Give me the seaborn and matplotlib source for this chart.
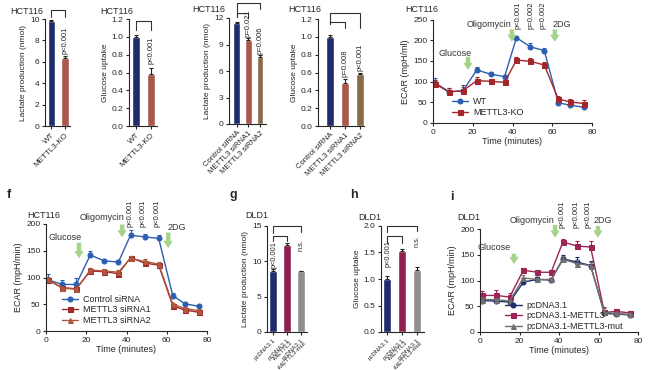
import numpy as np
import pandas as pd
import matplotlib
matplotlib.use('Agg')
import matplotlib.pyplot as plt
import seaborn as sns

sns.set_style('ticks')
plt.rcParams['font.family'] = ['Liberation Sans', 'DejaVu Sans']
plt.rcParams['axes.linewidth'] = 0.8
plt.rcParams['xtick.major.width'] = 0.8
plt.rcParams['ytick.major.width'] = 0.8
plt.rcParams['xtick.major.size'] = 2.5
plt.rcParams['ytick.major.size'] = 2.5
plt.rcParams['xtick.major.pad'] = 1.5
plt.rcParams['ytick.major.pad'] = 1.5

# ---- data: bar panels ----
ko_labels = ['WT', 'METTL3-KO']
ko_lactate = [9.8, 6.4]
ko_lactate_err = [0.1, 0.12]
ko_glucose = [1.0, 0.58]
ko_glucose_err = [0.02, 0.07]

si_labels = ['Control siRNA', 'METTL3 siRNA1', 'METTL3 siRNA2']
si_lactate = [11.4, 9.5, 7.6]
si_lactate_err = [0.2, 0.2, 0.2]
si_glucose = [1.0, 0.48, 0.58]
si_glucose_err = [0.02, 0.045, 0.01]

oe_labels = ['pcDNA3.1', 'pcDNA3.1\n-METTL3', 'pcDNA3.1\n-METTL3-mut']
oe_lactate = [8.6, 12.3, 8.6]
oe_lactate_err = [0.3, 0.3, 0.05]
oe_glucose = [1.0, 1.52, 1.17]
oe_glucose_err = [0.06, 0.04, 0.06]

# ---- data: ECAR time courses ----
time_pts = [1, 8, 15, 22, 29, 36, 42, 49, 56, 63, 69, 76]

wt_ecar = [97, 76, 77, 128, 118, 112, 206, 184, 175, 49, 43, 38]
wt_err = [12, 8, 10, 8, 5, 5, 5, 10, 5, 5, 4, 4]
ko_ecar = [95, 75, 78, 102, 101, 98, 152, 149, 140, 58, 51, 47]
ko_err = [10, 10, 14, 8, 5, 4, 8, 8, 8, 8, 8, 8]

ctrl_ecar = [96, 87, 87, 142, 131, 129, 179, 176, 173, 66, 51, 46]
ctrl_err = [10, 8, 12, 8, 4, 4, 9, 6, 6, 5, 3, 3]
si1_ecar = [95, 81, 79, 112, 111, 107, 137, 127, 123, 47, 39, 35]
si1_err = [4, 4, 4, 6, 5, 5, 4, 4, 4, 4, 3, 3]
si2_ecar = [97, 80, 78, 114, 112, 110, 136, 130, 125, 50, 42, 38]
si2_err = [4, 3, 3, 4, 4, 4, 4, 5, 4, 3, 3, 3]

pc_ecar = [61, 60, 58, 97, 102, 101, 142, 136, 129, 36, 35, 33]
pc_err = [4, 3, 3, 8, 4, 4, 8, 10, 8, 4, 3, 3]
m3_ecar = [71, 71, 68, 120, 116, 116, 175, 167, 165, 38, 40, 37]
m3_err = [8, 10, 8, 4, 4, 4, 6, 10, 12, 10, 4, 4]
mut_ecar = [63, 63, 60, 105, 102, 102, 141, 133, 129, 38, 36, 34]
mut_err = [4, 3, 3, 6, 3, 3, 6, 6, 6, 8, 3, 3]

NAVY = '#1f2d6e'
BRICK = '#a9564b'
TAN = '#8a6a48'
CRIMSON = '#8e1f4f'
GREY = '#8f8f8f'
GREEN = '#a6d38a'

W, H = 650, 370
fig = plt.figure(figsize=(6.5, 3.7), dpi=100)


def px_axes(x0, y0, x1, y1):
    return fig.add_axes([x0 / W, 1 - y1 / H, (x1 - x0) / W, (y1 - y0) / H])


def fig_text(x, y, s, **kw):
    fig.text(x / W, 1 - y / H, s, **kw)


def style(ax):
    sns.despine(ax=ax)
    ax.tick_params(labelsize=6, direction='out')


def bar_panel(ax, labels, vals, errs, colors, top, step, xlim, fmt, ylabel,
              xsize=5.8):
    df = pd.DataFrame({'group': labels, 'value': vals})
    sns.barplot(data=df, x='group', y='value', hue='group', palette=colors,
                width=0.55, saturation=1, legend=False, ax=ax)
    n = len(vals)
    ax.errorbar(range(n), vals, yerr=[np.zeros(n), errs], fmt='none',
                ecolor='#222222', elinewidth=0.8, capsize=1.5, capthick=0.8)
    ax.set_ylim(0, top)
    ax.set_xlim(*xlim)
    ticks = np.arange(0, top + step / 2, step)
    ax.set_yticks(ticks)
    ax.set_yticklabels([fmt.format(t) for t in ticks])
    ax.set_xlabel('')
    ax.set_ylabel(ylabel, fontsize=6, labelpad=2)
    ax.set_xticks(range(n))
    style(ax)
    ax.set_xticklabels(labels, rotation=45, ha='right', rotation_mode='anchor',
                       fontsize=xsize, linespacing=0.8)


def bracket(ax, x0, x1, y, yl, yr):
    ax.plot([x0, x0, x1, x1], [yl, y, y, yr], color='#333333', lw=0.8,
            clip_on=False)


def ptext(ax, x, y, s, size=5.5):
    ax.text(x, y, s, rotation=90, ha='center', va='bottom', fontsize=size)


def ecar_panel(ax, series, top, ylabel):
    for name, vals, errs, color, marker in series:
        df = pd.DataFrame({'Time': time_pts, 'ECAR': vals})
        sns.lineplot(data=df, x='Time', y='ECAR', color=color, marker=marker,
                     markersize=3.6, markeredgecolor=color, lw=1, label=name,
                     ax=ax)
        ax.errorbar(time_pts, vals, yerr=[np.zeros(len(vals)), errs],
                    fmt='none', ecolor=color, elinewidth=0.8, capsize=1.5,
                    capthick=0.8)
    ax.set_xlim(0, 80)
    ax.set_ylim(0, top)
    ax.set_xticks([0, 20, 40, 60, 80])
    ax.set_yticks(np.arange(0, top + 1, 50))
    ax.set_xlabel('Time (minutes)', fontsize=6.5, labelpad=1)
    ax.set_ylabel(ylabel, fontsize=6.5, labelpad=2)
    style(ax)


def arrow(ax, t, y0, y1):
    ax.annotate('', xy=(t, y1), xytext=(t, y0), annotation_clip=False,
                arrowprops=dict(arrowstyle='simple,head_width=0.85,head_length=0.65,tail_width=0.4',
                                color=GREEN, lw=0, shrinkA=0, shrinkB=0,
                                mutation_scale=8))


def label_text(ax, t, y, s):
    ax.text(t, y, s, ha='center', va='center', fontsize=6.5, color='#333333')


# ---- a: lactate WT vs KO ----
ax = px_axes(45, 19, 70, 126)
bar_panel(ax, ko_labels, ko_lactate, ko_lactate_err, [NAVY, BRICK], 10, 2,
          (-0.48, 1.37), '{:.0f}', 'Lactate production (nmol)')
bracket(ax, 0, 1, 10.85, 10.2, 10.2)
ptext(ax, 1, 6.7, 'p<0.001')
fig_text(10, 12, 'HCT116', fontsize=6.5, va='center')

# ---- b: glucose WT vs KO ----
ax = px_axes(129, 19, 157, 126)
bar_panel(ax, ko_labels, ko_glucose, ko_glucose_err, [NAVY, BRICK], 1.2, 0.2,
          (-0.47, 1.4), '{:.1f}', 'Glucose uptake')
bracket(ax, 0, 1, 1.18, 1.08, 1.08)
ptext(ax, 1, 0.7, 'p<0.001')
fig_text(100, 11, 'HCT116', fontsize=6.5, va='center')

# ---- c: lactate siRNA ----
ax = px_axes(229, 18, 266, 124)
bar_panel(ax, si_labels, si_lactate, si_lactate_err, [NAVY, BRICK, TAN], 12, 3,
          (-0.64, 2.5), '{:.0f}', 'Lactate production (nmol)', xsize=5.5)
bracket(ax, 0, 2, 13.7, 12.1, 13.0)
bracket(ax, 0, 1, 12.6, 12.1, 12.0)
ptext(ax, 1, 9.8, 'p=0.021')
ptext(ax, 2, 7.9, 'p=0.006')
fig_text(192, 9, 'HCT116', fontsize=6.5, va='center')

# ---- d: glucose siRNA ----
ax = px_axes(318, 19, 364, 126)
bar_panel(ax, si_labels, si_glucose, si_glucose_err, [NAVY, BRICK, TAN], 1.2, 0.2,
          (-0.84, 2.3), '{:.1f}', 'Glucose uptake', xsize=5.5)
bracket(ax, 0, 2, 1.27, 1.14, 1.1)
bracket(ax, 0, 1, 1.17, 1.14, 1.1)
ptext(ax, 1, 0.55, 'p=0.008')
ptext(ax, 2, 0.62, 'p<0.001')
fig_text(288, 10, 'HCT116', fontsize=6.5, va='center')

# ---- e: ECAR WT vs KO ----
ax = px_axes(433, 19.5, 592, 123)
ecar_panel(ax, [('WT', wt_ecar, wt_err, '#2c5fb0', 'o'),
                ('METTL3-KO', ko_ecar, ko_err, '#a3262a', 's')],
           250, 'ECAR (mpH/ml)')
ax.legend(loc='lower left', bbox_to_anchor=(0.08, 0.0), frameon=False,
          fontsize=6.5, handlelength=1.8, labelspacing=0.15, borderpad=0.2,
          handletextpad=0.5)
label_text(ax, 11, 169, 'Glucose')
arrow(ax, 17.6, 160, 128)
label_text(ax, 28, 239, 'Oligomycin')
arrow(ax, 39.7, 226, 196)
label_text(ax, 65, 239, '2DG')
arrow(ax, 61.3, 226, 196)
for t, s in zip([43, 49.5, 55.5], ['p<0.001', 'p=0.002', 'p=0.002']):
    ptext(ax, t, 226, s)
fig_text(405, 10, 'HCT116', fontsize=6.5, va='center')

# ---- f: ECAR siRNA ----
ax = px_axes(46, 224, 207, 331)
ecar_panel(ax, [('Control siRNA', ctrl_ecar, ctrl_err, '#2c5fb0', 'o'),
                ('METTL3 siRNA1', si1_ecar, si1_err, '#a3262a', 's'),
                ('METTL3 siRNA2', si2_ecar, si2_err, '#b0583e', '^')],
           200, 'ECAR (mpH/min)')
ax.legend(loc='lower left', bbox_to_anchor=(0.06, 0.0), frameon=False,
          fontsize=6.5, handlelength=1.8, labelspacing=0.15, borderpad=0.2,
          handletextpad=0.5)
label_text(ax, 9.5, 175, 'Glucose')
arrow(ax, 16.4, 165, 136)
label_text(ax, 28, 213, 'Oligomycin')
arrow(ax, 37.8, 199, 175)
label_text(ax, 65, 194, '2DG')
arrow(ax, 60.7, 184, 155)
for t, s in zip([41.5, 48, 55], ['p<0.001', 'p<0.001', 'p<0.001']):
    ptext(ax, t, 194, s)
fig_text(7, 195, 'f', fontsize=9, fontweight='bold', va='center')
fig_text(27, 216, 'HCT116', fontsize=6.5, va='center')

# ---- g: lactate DLD1 ----
ax = px_axes(267, 226, 307, 332)
bar_panel(ax, oe_labels, oe_lactate, oe_lactate_err, [NAVY, CRIMSON, GREY], 15, 5,
          (-0.43, 2.43), '{:.0f}', 'Lactate production (nmol)', xsize=4.4)
bracket(ax, 0, 2, 15.0, 14.0, 14.2)
bracket(ax, 0, 1, 13.6, 12.9, 12.9)
ptext(ax, 0.05, 9.0, 'p<0.001', size=5.3)
ptext(ax, 2, 11.4, 'n.s.', size=5.3)
fig_text(230, 195, 'g', fontsize=9, fontweight='bold', va='center')
fig_text(245, 216, 'DLD1', fontsize=6.5, va='center')

# ---- h: glucose DLD1 ----
ax = px_axes(381, 226, 424, 332)
bar_panel(ax, oe_labels, oe_glucose, oe_glucose_err, [NAVY, CRIMSON, GREY], 2.0, 0.5,
          (-0.4, 2.47), '{:.1f}', 'Glucose uptake', xsize=4.4)
bracket(ax, 0, 2, 2.0, 1.88, 1.9)
bracket(ax, 0, 1, 1.81, 1.68, 1.68)
ptext(ax, 0.1, 1.22, 'p<0.001', size=5.3)
ptext(ax, 2, 1.6, 'n.s.', size=5.3)
fig_text(350, 195, 'h', fontsize=9, fontweight='bold', va='center')
fig_text(358, 217, 'DLD1', fontsize=6.5, va='center')

# ---- i: ECAR DLD1 ----
ax = px_axes(480, 229, 638, 332)
ecar_panel(ax, [('pcDNA3.1', pc_ecar, pc_err, '#1d2d6b', 'o'),
                ('pcDNA3.1-METTL3', m3_ecar, m3_err, '#9c2456', 's'),
                ('pcDNA3.1-METTL3-mut', mut_ecar, mut_err, '#6f6f6f', '^')],
           200, 'ECAR (mpH/min)')
ax.legend(loc='lower left', bbox_to_anchor=(0.12, -0.05), frameon=False,
          fontsize=6.5, handlelength=1.8, labelspacing=0.15, borderpad=0.2,
          handletextpad=0.5)
label_text(ax, 7, 165, 'Glucose')
arrow(ax, 17.2, 152, 132)
label_text(ax, 26.5, 216, 'Oligomycin')
arrow(ax, 38, 208, 183)
label_text(ax, 62, 216, '2DG')
arrow(ax, 59.7, 206, 183)
for t, s in zip([41.5, 48.6, 54.7], ['p<0.001', 'p<0.001', 'p<0.001']):
    ptext(ax, t, 202, s)
fig_text(450, 197, 'i', fontsize=9, fontweight='bold', va='center')
fig_text(457, 217, 'DLD1', fontsize=6.5, va='center')

fig.savefig('out.png', dpi=100)
